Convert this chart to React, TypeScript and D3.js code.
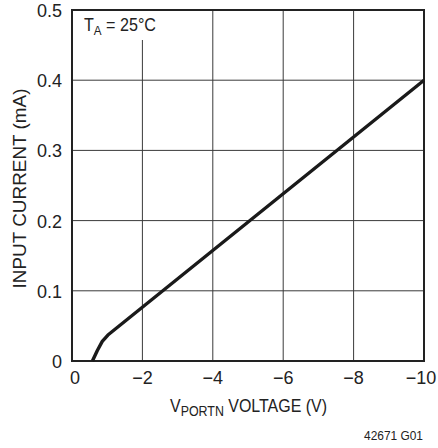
import * as React from "react";
import * as d3 from "d3";

// input current vs V_PORTN at 25°C
const voltage = [0.58, 0.72, 0.86, 1.02, 10];
const currentMA = [0, 0.015, 0.028, 0.037, 0.4];

const xTicks = [0, 2, 4, 6, 8, 10];
const yTicks = [0, 0.1, 0.2, 0.3, 0.4, 0.5];

const font = "'Liberation Sans', Arial, sans-serif";

export default function App() {
  const width = 438;
  const height = 448;
  const margin = { top: 10, right: 14, bottom: 87, left: 72 };

  const x = d3.scaleLinear().domain([0, 10]).range([margin.left, width - margin.right]);
  const y = d3.scaleLinear().domain([0, 0.5]).range([height - margin.bottom, margin.top]);

  const line = d3
    .line<number>()
    .x((d) => x(d))
    .y((d, i) => y(currentMA[i]))
    .curve(d3.curveLinear);

  const fmtX = (d: number) => (d === 0 ? "0" : "\u2212" + d);
  const tickShift = (d: number) => (d === 0 ? 3 : d === 10 ? -3 : 0);

  return (
    <svg
      width={width}
      height={height}
      style={{ position: "absolute", left: 0, top: 0, background: "#fff" }}
      fontFamily={font}
    >
      {/* grid */}
      {xTicks.slice(1, -1).map((t) => (
        <line key={"gx" + t} x1={x(t)} x2={x(t)} y1={y(0.5)} y2={y(0)} stroke="#3a3a3a" strokeWidth={1} />
      ))}
      {yTicks.slice(1, -1).map((t) => (
        <line key={"gy" + t} x1={x(0)} x2={x(10)} y1={y(t)} y2={y(t)} stroke="#3a3a3a" strokeWidth={1} />
      ))}

      {/* label box hides grid */}
      <rect x={x(0) + 1} y={y(0.5) + 1} width={86} height={29} fill="#fff" />
      <text x={84} y={31} fontSize={18} fill="#222" textLength={72} lengthAdjust="spacingAndGlyphs">
        T<tspan fontSize={13} dy={4}>A</tspan>
        <tspan dy={-4}> = 25°C</tspan>
      </text>

      {/* frame */}
      <rect
        x={x(0)}
        y={y(0.5)}
        width={x(10) - x(0)}
        height={y(0) - y(0.5)}
        fill="none"
        stroke="#222"
        strokeWidth={2}
      />

      {/* curve */}
      <path d={line(voltage) || ""} fill="none" stroke="#1a1a1a" strokeWidth={3.4} strokeLinejoin="round" />

      {/* tick labels */}
      {yTicks.map((t) => (
        <text key={"ty" + t} x={62} y={y(t) + 7} textAnchor="end" fontSize={18} fill="#222">
          {t === 0 ? "0" : t.toFixed(1)}
        </text>
      ))}
      {xTicks.map((t) => (
        <text key={"tx" + t} x={x(t) + tickShift(t)} y={384} textAnchor="middle" fontSize={18} fill="#222">
          {fmtX(t)}
        </text>
      ))}

      {/* axis titles */}
      <text
        x={170}
        y={412}
        fontSize={18}
        fill="#222"
        textLength={157}
        lengthAdjust="spacingAndGlyphs"
      >
        V<tspan fontSize={14} dy={4}>PORTN</tspan>
        <tspan dy={-4}> VOLTAGE (V)</tspan>
      </text>
      <text
        transform={`translate(26, ${(y(0) + y(0.5)) / 2 + 3}) rotate(-90)`}
        textAnchor="middle"
        fontSize={18}
        fill="#222"
        textLength={200}
        lengthAdjust="spacingAndGlyphs"
      >
        INPUT CURRENT (mA)
      </text>

      <text x={423} y={440} textAnchor="end" fontSize={12} fill="#222" textLength={59} lengthAdjust="spacingAndGlyphs">
        42671 G01
      </text>
    </svg>
  );
}
